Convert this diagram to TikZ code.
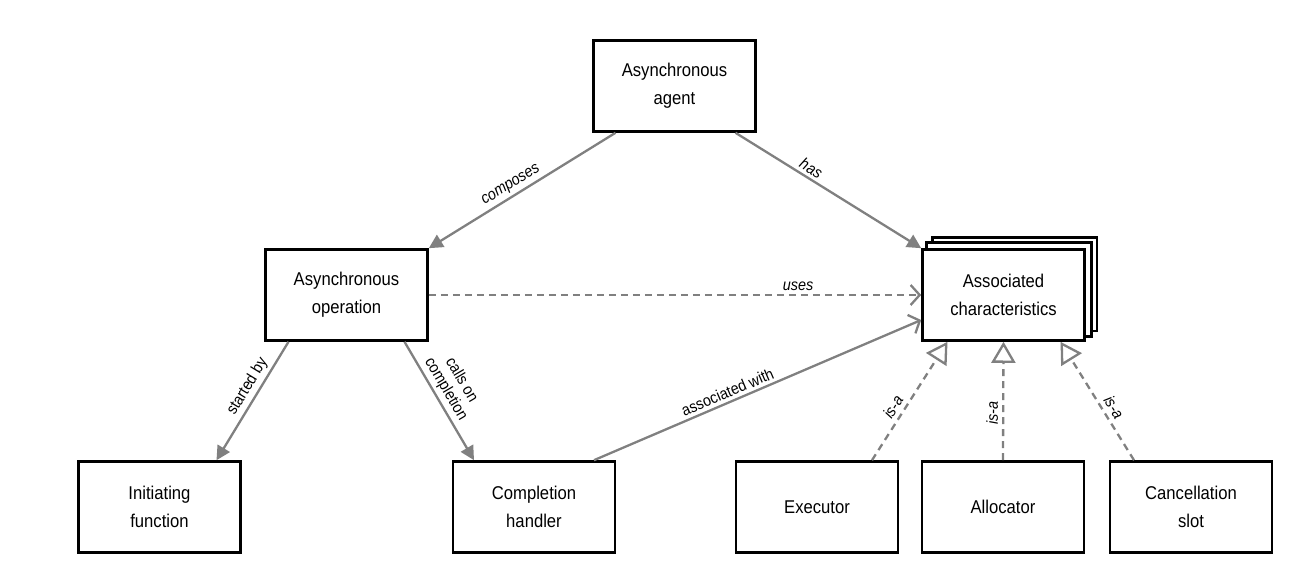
\documentclass[tikz,border=0pt]{standalone}
\usepackage{fontspec}
\setmainfont[FakeStretch=0.9]{Liberation Sans}
\usetikzlibrary{arrows.meta,backgrounds}
\definecolor{linegray}{RGB}{128,128,128}
\tikzset{
  box/.style={draw=black, line width=2.6pt, fill=white, minimum width=162pt, minimum height=91pt,
    align=center, inner sep=0pt, font=\fontsize{18.5}{28}\selectfont},
  conn/.style={draw=linegray, line width=2.3pt},
  filledarrow/.style={conn, -{Triangle[length=14pt,width=14pt,fill=linegray]}},
  openarrow/.style={conn, -{Straight Barb[length=9pt,width=20pt]}},
  isaarrow/.style={conn, dashed, dash pattern=on 7pt off 5pt, -{Triangle[open,length=21pt,width=24pt,fill=white,line width=2.3pt]}},
  lbl/.style={font=\fontsize{16}{18}\selectfont, sloped, above, inner sep=3pt, align=center},
  ilbl/.style={lbl, font=\fontsize{16}{18}\selectfont\itshape},
}
\begin{document}
\begin{tikzpicture}[x=1pt,y=-1pt]
\useasboundingbox (0,0) rectangle (1303,567);
\node[box] (agent) at (674.5,86) {Asynchronous\\agent};
\node[box] (op) at (346.5,295) {Asynchronous\\operation};
\node[box] (assoc) at (1003.5,295) {Associated\\characteristics};
\begin{scope}[on background layer]
  \draw[line width=2.6pt, fill=white] ([xshift=11pt,yshift=11pt]assoc.south west) rectangle ([xshift=11pt,yshift=11pt]assoc.north east);
  \draw[line width=2.6pt, fill=white] ([xshift=5.5pt,yshift=5.5pt]assoc.south west) rectangle ([xshift=5.5pt,yshift=5.5pt]assoc.north east);
\end{scope}
\node[box] (init) at (159.5,507) {Initiating\\function};
\node[box] (comp) at (534,507) {Completion\\handler};
\node[box] (exec) at (817,507) {Executor};
\node[box] (alloc) at (1003,507) {Allocator};
\node[box] (cancel) at (1191,507) {Cancellation\\slot};

\draw[filledarrow] ([xshift=-59pt]agent.south) -- (op.north east) node[ilbl, pos=0.53] {composes};
\draw[filledarrow] ([xshift=61pt]agent.south) -- (assoc.north west) node[ilbl, pos=0.38] {has};
\draw[conn, dashed, dash pattern=on 7pt off 5pt, -{Straight Barb[length=9pt,width=20pt]}] (op.east) -- (assoc.west) node[ilbl, pos=0.75] {uses};
\draw[filledarrow] ([xshift=-58pt]op.south) -- ([xshift=57pt]init.north) node[lbl, pos=0.43] {started by};
\draw[filledarrow] ([xshift=58pt]op.south) -- ([xshift=-60pt]comp.north) node[lbl, pos=0.45] {calls on\\completion};
\draw[openarrow] ([xshift=60pt]comp.north) -- ([yshift=-25pt]assoc.west) node[lbl, pos=0.42] {associated with};
\draw[isaarrow] ([xshift=55pt]exec.north) -- ([xshift=-56pt]assoc.south) node[ilbl, pos=0.40, inner sep=4pt] {is-a};
\draw[isaarrow] (alloc.north) -- (assoc.south) node[ilbl, pos=0.40, inner sep=4pt] {is-a};
\draw[isaarrow] ([xshift=-57pt]cancel.north) -- ([xshift=57pt]assoc.south) node[ilbl, pos=0.40, inner sep=4pt] {is-a};
\end{tikzpicture}
\end{document}
